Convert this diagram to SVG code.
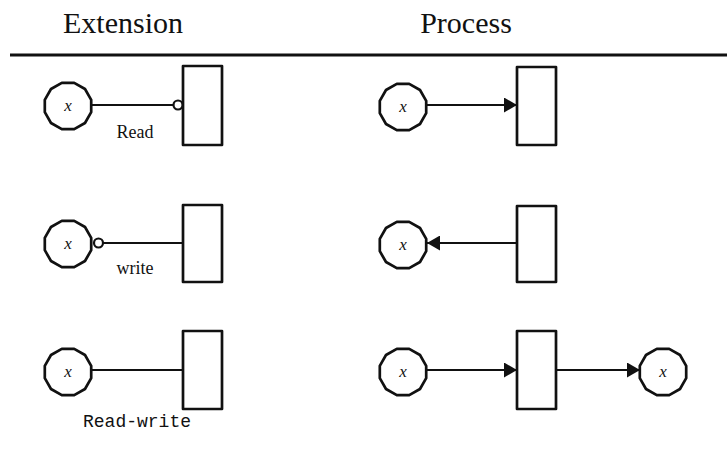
<svg xmlns="http://www.w3.org/2000/svg" xmlns:xlink="http://www.w3.org/1999/xlink" width="727" height="465" viewBox="0 0 727 465">
<style>
.title{font-family:"Liberation Serif","Times New Roman",serif;font-size:30px;fill:#111;text-anchor:middle}
.lbl{font-family:"Liberation Serif","Times New Roman",serif;font-size:18px;fill:#111;text-anchor:middle}
.mono{font-family:"Liberation Mono","Courier New",monospace;font-size:18px;fill:#111;text-anchor:middle}
.var{font-family:"Liberation Serif","Times New Roman",serif;font-size:17px;font-style:italic;fill:#111;text-anchor:middle}
.shape{fill:#fff;stroke:#111;stroke-width:2.7;stroke-linejoin:round}
.edge{fill:none;stroke:#111;stroke-width:2}
.port{fill:#fff;stroke:#111;stroke-width:2.2}
</style>
<defs>
<polygon id="place" points="23.2,6.2 17,17 6.2,23.2 -6.2,23.2 -17,17 -23.2,6.2 -23.2,-6.2 -17,-17 -6.2,-23.2 6.2,-23.2 17,-17 23.2,-6.2"/>
<marker id="arr" viewBox="0 0 13 15" refX="13" refY="7.5" markerWidth="13" markerHeight="15" markerUnits="userSpaceOnUse" orient="auto">
<path d="M0,0 L13,7.5 L0,15 Z" fill="#111"/>
</marker>
</defs>
<rect width="727" height="465" fill="#fff"/>
<text class="title" x="123" y="33">Extension</text>
<text class="title" x="466" y="33">Process</text>
<line x1="10" y1="55" x2="727" y2="55" stroke="#111" stroke-width="3"/>

<g id="connectors">
<line class="edge" x1="92" y1="105" x2="174" y2="105"/>
<line class="edge" x1="103" y1="243" x2="183" y2="243"/>
<line class="edge" x1="92" y1="370" x2="183" y2="370"/>
<line class="edge" x1="427" y1="105" x2="517" y2="105" marker-end="url(#arr)"/>
<line class="edge" x1="517" y1="243" x2="427" y2="243" marker-end="url(#arr)"/>
<line class="edge" x1="427" y1="370" x2="517" y2="370" marker-end="url(#arr)"/>
<line class="edge" x1="556" y1="370" x2="640" y2="370" marker-end="url(#arr)"/>
</g>

<g id="ext-read">
<use href="#place" xlink:href="#place" class="shape" x="68" y="106"/>
<text class="var" x="68" y="111">x</text>
<rect class="shape" x="183" y="66" width="39" height="79"/>
<circle class="port" cx="178" cy="105" r="4.5"/>
<text class="lbl" x="135" y="138">Read</text>
</g>
<g id="ext-write">
<use href="#place" xlink:href="#place" class="shape" x="68" y="244"/>
<text class="var" x="68" y="249">x</text>
<rect class="shape" x="183" y="205" width="39" height="77"/>
<circle class="port" cx="98.5" cy="243" r="4.5"/>
<text class="lbl" x="135" y="274">write</text>
</g>
<g id="ext-readwrite">
<use href="#place" xlink:href="#place" class="shape" x="68" y="372"/>
<text class="var" x="68" y="377">x</text>
<rect class="shape" x="183" y="331" width="39" height="78"/>
<text class="mono" x="137" y="427">Read-write</text>
</g>
<g id="proc-read">
<use href="#place" xlink:href="#place" class="shape" x="403" y="107"/>
<text class="var" x="403" y="112">x</text>
<rect class="shape" x="517" y="67" width="39" height="78"/>
</g>
<g id="proc-write">
<use href="#place" xlink:href="#place" class="shape" x="403" y="245"/>
<text class="var" x="403" y="250">x</text>
<rect class="shape" x="517" y="206" width="39" height="76"/>
</g>
<g id="proc-readwrite">
<use href="#place" xlink:href="#place" class="shape" x="403" y="372"/>
<text class="var" x="403" y="377">x</text>
<rect class="shape" x="517" y="331" width="39" height="78"/>
<use href="#place" xlink:href="#place" class="shape" x="663" y="372"/>
<text class="var" x="663" y="377">x</text>
</g>
</svg>
